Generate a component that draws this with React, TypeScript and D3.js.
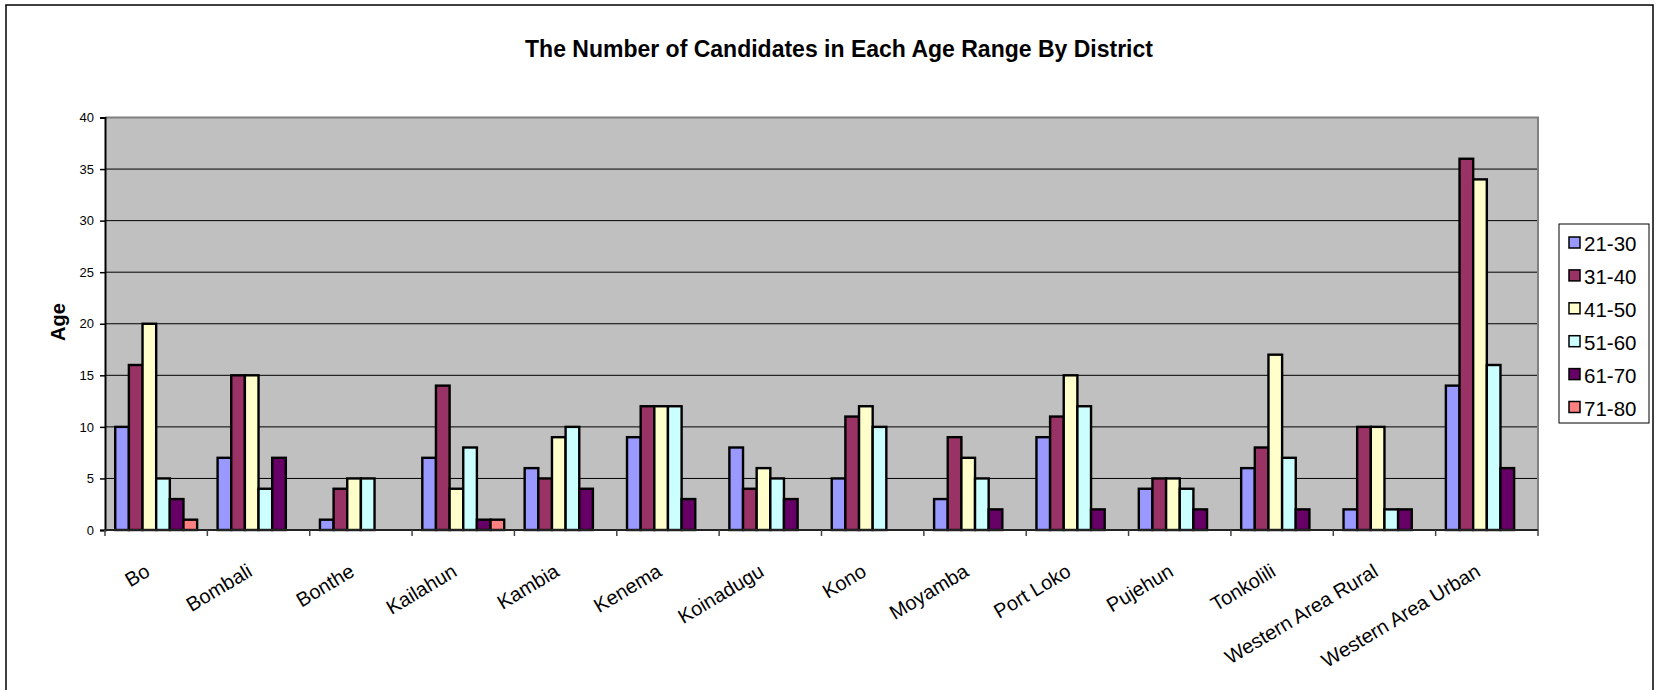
import * as d3 from 'd3';
import { useEffect, useRef } from 'react';

const districts = [
    'Bo', 'Bombali', 'Bonthe', 'Kailahun', 'Kambia', 'Kenema', 'Koinadugu',
    'Kono', 'Moyamba', 'Port Loko', 'Pujehun', 'Tonkolili',
    'Western Area Rural', 'Western Area Urban',
];
const ageRanges = ['21-30', '31-40', '41-50', '51-60', '61-70', '71-80'];
const rangeColors = ['#9999FF', '#993366', '#FFFFCC', '#CCFFFF', '#660066', '#FF8080'];

// one array per age range, in district order
const age21to30 = [10, 7, 1, 7, 6, 9, 8, 5, 3, 9, 4, 6, 2, 14];
const age31to40 = [16, 15, 4, 14, 5, 12, 4, 11, 9, 11, 5, 8, 10, 36];
const age41to50 = [20, 15, 5, 4, 9, 12, 6, 12, 7, 15, 5, 17, 10, 34];
const age51to60 = [5, 4, 5, 8, 10, 12, 5, 10, 5, 12, 4, 7, 2, 16];
const age61to70 = [3, 7, 0, 1, 4, 3, 3, 0, 2, 2, 2, 2, 2, 6];
const age71to80 = [1, 0, 0, 1, 0, 0, 0, 0, 0, 0, 0, 0, 0, 0];
const seriesValues = [age21to30, age31to40, age41to50, age51to60, age61to70, age71to80];

const yTicks = [0, 5, 10, 15, 20, 25, 30, 35, 40];

const FONT = '"Liberation Sans", Arial, sans-serif';

export default function App() {
    const svgRef = useRef<SVGSVGElement>(null);
    const W = 1656;
    const H = 690;
    const plot = { left: 105, right: 1538, top: 117.5, bottom: 530 };

    useEffect(() => {
        const svg = d3.select(svgRef.current);
        svg.selectAll('*').remove();

        const x = d3.scaleBand().domain(districts).range([plot.left, plot.right]);
        const xInner = d3.scaleBand().domain(ageRanges).range([0, x.bandwidth()]).paddingOuter(0.75);
        const y = d3.scaleLinear().domain([0, 40]).range([plot.bottom, plot.top]);

        // outer chart border
        svg.append('rect')
            .attr('x', 6).attr('y', 5)
            .attr('width', 1647).attr('height', 720)
            .attr('fill', 'white')
            .attr('stroke', '#000').attr('stroke-width', 1.5);

        svg.append('text')
            .attr('x', 839).attr('y', 57)
            .attr('text-anchor', 'middle')
            .style('font-family', FONT)
            .style('font-size', '23px')
            .style('font-weight', 'bold')
            .text('The Number of Candidates in Each Age Range By District');

        // plot area
        svg.append('rect')
            .attr('x', plot.left).attr('y', plot.top)
            .attr('width', plot.right - plot.left).attr('height', plot.bottom - plot.top)
            .attr('fill', '#C0C0C0');

        svg.append('g')
            .selectAll('line')
            .data(yTicks.filter((t) => t > 0 && t < 40))
            .enter()
            .append('line')
            .attr('x1', plot.left).attr('x2', plot.right)
            .attr('y1', (t) => y(t)).attr('y2', (t) => y(t))
            .attr('stroke', '#000').attr('stroke-width', 1);

        // plot border top / right
        svg.append('path')
            .attr('d', `M${plot.left},${plot.top}H${plot.right}V${plot.bottom}`)
            .attr('fill', 'none')
            .attr('stroke', '#808080').attr('stroke-width', 2);

        // bars
        const groups = svg.append('g')
            .selectAll('g')
            .data(districts)
            .enter()
            .append('g')
            .attr('transform', (d) => `translate(${x(d)},0)`);

        groups.selectAll('rect')
            .data((d, i) => ageRanges.map((r, k) => ({ range: r, value: seriesValues[k][i], color: rangeColors[k] })))
            .enter()
            .filter((d) => d.value > 0)
            .append('rect')
            .attr('x', (d) => xInner(d.range) || 0)
            .attr('y', (d) => y(d.value))
            .attr('width', xInner.bandwidth())
            .attr('height', (d) => y(0) - y(d.value))
            .attr('fill', (d) => d.color)
            .attr('stroke', '#000')
            .attr('stroke-width', 2.4);

        // y axis
        const yAxis = svg.append('g')
            .attr('transform', `translate(${plot.left},0)`)
            .call(d3.axisLeft(y).tickValues(yTicks).tickSize(5).tickPadding(6));
        yAxis.select('.domain').attr('stroke', '#000').attr('stroke-width', 2);
        yAxis.selectAll('line').attr('stroke', '#000').attr('stroke-width', 1.5);
        yAxis.selectAll('text')
            .style('font-family', FONT)
            .style('font-size', '13px')
            .attr('fill', '#000');

        // x axis
        const xAxis = svg.append('g')
            .attr('transform', `translate(0,${plot.bottom})`);
        xAxis.append('line')
            .attr('x1', plot.left).attr('x2', plot.right)
            .attr('stroke', '#222').attr('stroke-width', 2);
        xAxis.selectAll('.tick')
            .data(d3.range(districts.length + 1))
            .enter()
            .append('line')
            .attr('x1', (i) => plot.left + i * x.step())
            .attr('x2', (i) => plot.left + i * x.step())
            .attr('y1', 0).attr('y2', 6)
            .attr('stroke', '#444').attr('stroke-width', 1.5);
        xAxis.selectAll('.label')
            .data(districts)
            .enter()
            .append('text')
            .attr('transform', (d) => `translate(${(x(d) || 0) + x.bandwidth() / 2 - 5},${45}) rotate(-31)`)
            .attr('text-anchor', 'end')
            .style('font-family', FONT)
            .style('font-size', '20px')
            .text((d) => d);

        svg.append('text')
            .attr('transform', 'translate(58,322) rotate(-90)')
            .attr('text-anchor', 'middle')
            .attr('dominant-baseline', 'central')
            .style('font-family', FONT)
            .style('font-size', '20px')
            .style('font-weight', 'bold')
            .text('Age');

        // legend
        const legend = svg.append('g');
        legend.append('rect')
            .attr('x', 1559).attr('y', 224)
            .attr('width', 90).attr('height', 199)
            .attr('fill', 'white')
            .attr('stroke', '#000').attr('stroke-width', 1);
        const items = legend.selectAll('.item')
            .data(ageRanges)
            .enter()
            .append('g')
            .attr('transform', (d, i) => `translate(1569,${242.5 + i * 32.9})`);
        items.append('rect')
            .attr('x', 0).attr('y', -5.5)
            .attr('width', 11).attr('height', 11)
            .attr('fill', (d, i) => rangeColors[i])
            .attr('stroke', '#000').attr('stroke-width', 1.5);
        items.append('text')
            .attr('x', 15).attr('y', 1)
            .attr('dominant-baseline', 'central')
            .style('font-family', FONT)
            .style('font-size', '20.5px')
            .text((d) => d);
    }, []);

    return (
        <svg ref={svgRef} width={W} height={H}
            style={{ position: 'absolute', left: 0, top: 0, background: 'white' }} />
    );
}
